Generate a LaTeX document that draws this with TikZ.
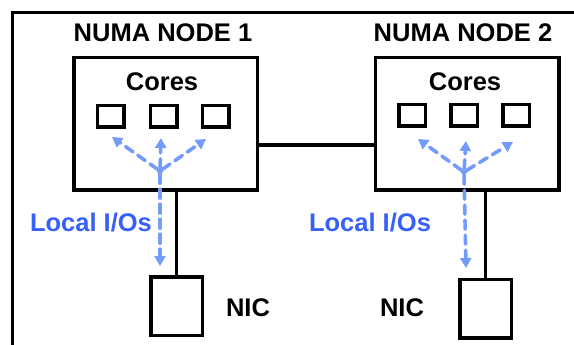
\documentclass[tikz,border=0pt]{standalone}
\usepackage{fontspec}
\setmainfont{Liberation Sans}
\usetikzlibrary{arrows.meta}
\definecolor{arrowblue}{RGB}{115,155,250}
\definecolor{textblue}{RGB}{55,95,250}
\begin{document}
\begin{tikzpicture}[x=1pt,y=-1pt,
  blk/.style={draw=black,line width=3.5pt},
  numabox/.style={blk,minimum width=183.5pt,minimum height=132.5pt,inner sep=0pt},
  corebox/.style={blk,minimum width=26.5pt,minimum height=21.5pt,inner sep=0pt},
  nicbox/.style={blk,minimum width=51.5pt,minimum height=58.5pt,inner sep=0pt},
  lbl/.style={font=\fontsize{25.5}{30}\selectfont\bfseries,inner sep=0pt},
  iolbl/.style={lbl,text=textblue},
  io/.style={draw=arrowblue,line width=3.6pt,dash pattern=on 9pt off 6pt,line cap=round,
    -{Triangle[length=10pt,width=11pt]}},
  iodot/.style={circle,fill=arrowblue,minimum size=6pt,inner sep=0pt}]
\useasboundingbox (0,0) rectangle (574,345);
\begin{scope}
\clip (0,0) rectangle (574,345);
\draw[blk] (12.5,12.5) rectangle (640,420);
% node boxes
\node[numabox] (n1) at (165.5,124) {};
\node[numabox] (n2) at (467,124) {};
\node[lbl] (t1) at (163,33) {NUMA NODE 1};
\node[lbl] (t2) at (463,33) {NUMA NODE 2};
\node[lbl] (c1) at (162,82) {Cores};
\node[lbl] (c2) at (465,82) {Cores};
\node[corebox] (k11) at (110.5,116.5) {};
\node[corebox] (k12) at (163.5,116.5) {};
\node[corebox] (k13) at (215.5,116.5) {};
\node[corebox] (k21) at (412,115.5) {};
\node[corebox] (k22) at (464,115.5) {};
\node[corebox] (k23) at (516,115.5) {};
\coordinate (link) at (0,145);
\draw[blk] (n1.east |- link) -- (n2.west |- link);
% NICs
\node[nicbox] (nic1) at (176.5,306) {};
\node[nicbox] (nic2) at (485.5,308.5) {};
\node[lbl] (nl1) at (248,308) {NIC};
\node[lbl] (nl2) at (402,308) {NIC};
\draw[blk] (nic1.north) -- (nic1.north |- n1.south);
\draw[blk] (nic2.north) -- (nic2.north |- n2.south);
% local IO arrows
\node[iodot] (o1) at (160,171) {};
\coordinate (u1) at (161,138);
\coordinate (l1) at (112,137);
\coordinate (r1) at (206,139);
\coordinate (d1) at (160,266);
\draw[io] (o1) -- (u1);
\draw[io] (o1) -- (l1);
\draw[io] (o1) -- (r1);
\draw[io] (o1) -- (d1);
\node[iodot] (o2) at (464,172) {};
\coordinate (u2) at (466,141);
\coordinate (l2) at (418,139);
\coordinate (r2) at (513,142);
\coordinate (d2) at (466,268);
\draw[io] (o2) -- (u2);
\draw[io] (o2) -- (l2);
\draw[io] (o2) -- (r2);
\draw[io] (o2) -- (d2);
\node[iolbl] (io1) at (91,223) {Local I/Os};
\node[iolbl] (io2) at (370,223) {Local I/Os};
\end{scope}
\end{tikzpicture}
\end{document}
